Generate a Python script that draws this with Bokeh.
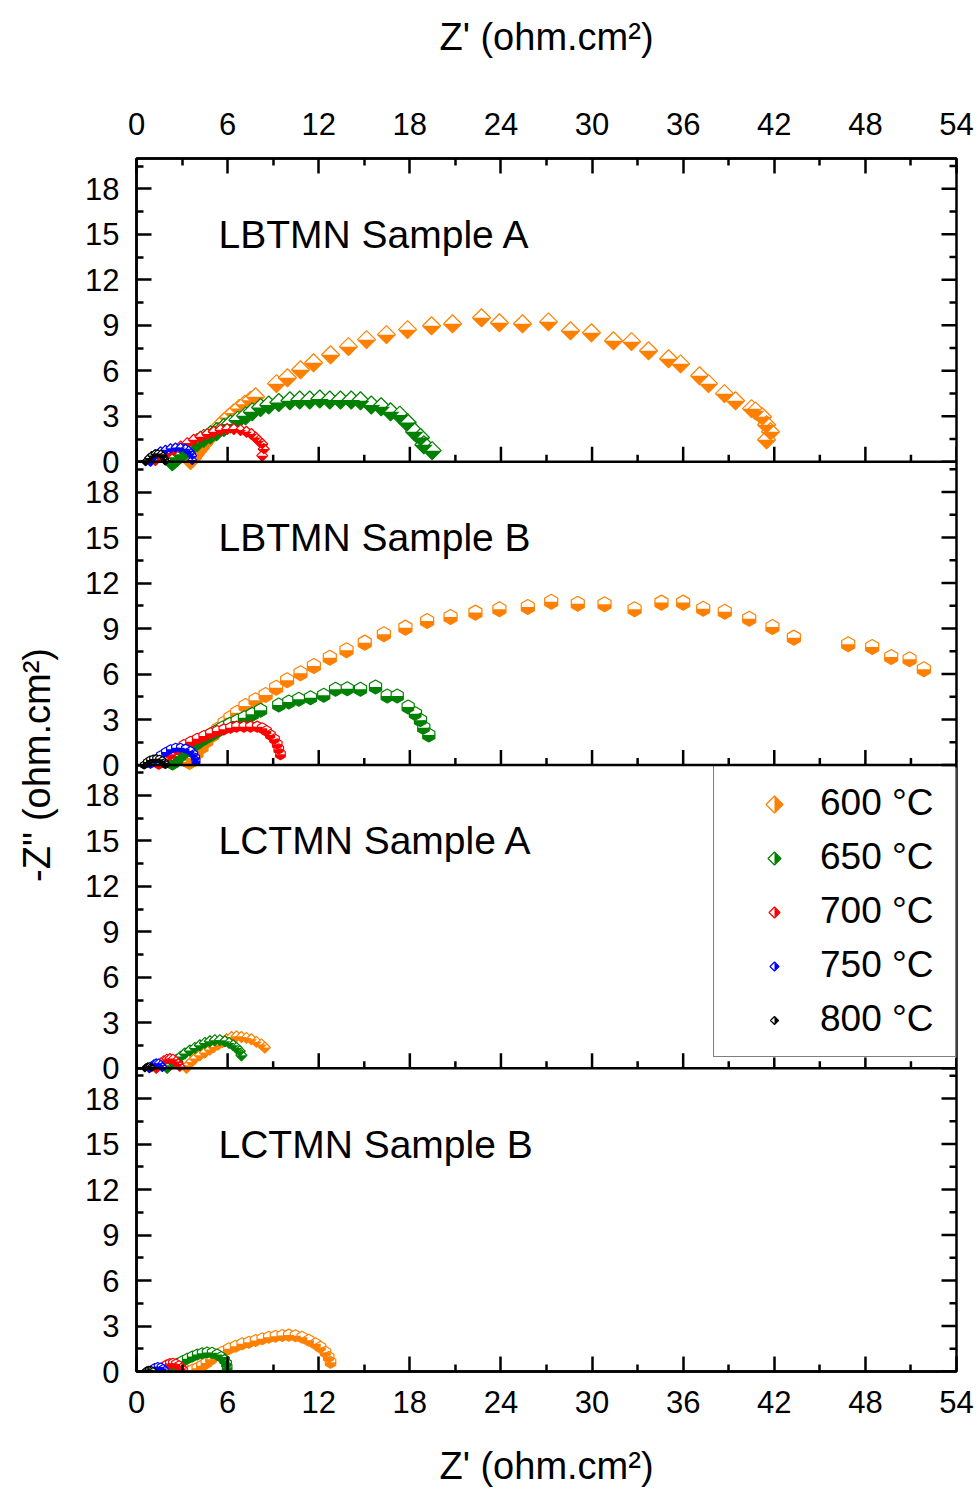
import numpy as np
from bokeh.plotting import figure
from bokeh.models import Range1d, LinearAxis, FixedTicker, Label, Legend, LegendItem, Span
from bokeh.embed import file_html
from bokeh.resources import INLINE

FONT = "Liberation Sans"

# ---------------- axis ticks / labels ----------------
x_ticks = [0, 6, 12, 18, 24, 30, 36, 42, 48, 54]
x_minor = [3, 9, 15, 21, 27, 33, 39, 45, 51]
y_ticks = [0, 3, 6, 9, 12, 15, 18]
y_minor = [1.5, 4.5, 7.5, 10.5, 13.5, 16.5, 19.5]
panel_names = ["LBTMN Sample A", "LBTMN Sample B", "LCTMN Sample A", "LCTMN Sample B"]
temps = ["600 °C", "650 °C", "700 °C", "750 °C", "800 °C"]
colors = ["#FF8000", "#008000", "#FF0000", "#0000FF", "#000000"]
x_title = "Z' (ohm.cm²)"
y_title = "-Z'' (ohm.cm²)"

# ---------------- data: LBTMN Sample A ----------------
lbtmn_a_600_re = [3.56, 3.70, 3.85, 4.02, 4.21, 4.42, 4.65, 4.90, 5.17, 5.45, 5.75, 6.06, 6.40, 6.76, 7.14, 7.52, 7.84,
                  9.22, 9.94, 10.80, 11.66, 12.78, 13.96, 15.15, 16.46, 17.85, 19.43, 20.81, 22.72, 23.90, 25.42, 27.13,
                  28.58, 29.96, 31.41, 32.60, 33.72, 35.04, 35.83, 37.08, 37.67, 38.72, 39.45, 40.50, 40.76, 41.22,
                  41.49, 41.75, 41.49]
lbtmn_a_600_im = [0.07, 0.25, 0.45, 0.67, 0.91, 1.17, 1.44, 1.72, 2.02, 2.32, 2.62, 2.92, 3.22, 3.52, 3.80, 4.06, 4.29,
                  5.15, 5.54, 6.07, 6.53, 7.06, 7.59, 8.05, 8.38, 8.71, 8.97, 9.10, 9.50, 9.17, 9.10, 9.23,
                  8.64, 8.51, 7.98, 7.92, 7.32, 6.79, 6.46, 5.67, 5.15, 4.49, 4.02, 3.50, 3.36, 2.97,
                  2.44, 1.98, 1.45]
lbtmn_a_650_re = [2.35, 2.50, 2.70, 2.95, 3.25, 3.60, 4.00, 4.43, 4.87, 5.27, 5.75, 6.19, 6.67, 7.18, 7.62, 8.17, 8.71,
                  9.37, 10.10, 10.75, 11.41, 12.07, 12.73, 13.43, 14.14, 14.75, 15.46, 16.11, 16.73, 17.34, 17.83,
                  18.31, 18.70, 18.92, 19.47]
lbtmn_a_650_im = [0.00, 0.12, 0.30, 0.50, 0.75, 1.00, 1.27, 1.54, 1.78, 1.98, 2.26, 2.49, 2.75, 3.03, 3.30, 3.58, 3.74,
                  3.91, 4.02, 4.07, 4.07, 4.14, 4.07, 4.07, 4.07, 4.02, 3.74, 3.63, 3.30, 3.08, 2.59,
                  1.98, 1.60, 1.12, 0.73]
lbtmn_a_700_re = [1.25, 1.58, 2.02, 2.46, 2.90, 3.34, 3.77, 4.21, 4.66, 5.09, 5.53, 5.97, 6.41, 6.85, 7.24, 7.57, 7.84,
                  8.05, 8.28, 8.38, 8.28]
lbtmn_a_700_im = [0.11, 0.33, 0.57, 0.79, 1.01, 1.23, 1.45, 1.65, 1.83, 1.98, 2.11, 2.16, 2.16, 2.09, 1.98, 1.83, 1.60,
                  1.39, 1.17, 0.84, 0.40]
lbtmn_a_750_re = [0.92, 1.10, 1.25, 1.58, 1.91, 2.24, 2.57, 2.90, 3.23, 3.44, 3.59, 3.67, 3.67]
lbtmn_a_750_im = [0.00, 0.30, 0.51, 0.69, 0.79, 0.89, 0.94, 0.94, 0.86, 0.73, 0.56, 0.40, 0.11]
lbtmn_a_800_re = [0.60, 0.80, 1.00, 1.20, 1.40, 1.60, 1.75, 1.85, 1.90]
lbtmn_a_800_im = [0.00, 0.25, 0.42, 0.52, 0.55, 0.50, 0.38, 0.20, 0.05]

# ---------------- data: LBTMN Sample B ----------------
lbtmn_b_600_re = [3.49, 3.69, 3.95, 4.28, 4.60, 5.00, 5.40, 5.80, 6.19, 6.63, 7.18, 7.84, 8.50, 9.20, 9.92, 10.80, 11.68,
                  12.73, 13.83, 15.03, 16.29, 17.71, 19.14, 20.68, 22.32, 23.90, 25.77, 27.31, 29.06, 30.82, 32.80,
                  34.57, 36.00, 37.32, 38.74, 40.35, 41.88, 43.29, 46.87, 48.45, 49.70, 50.91, 51.85]
lbtmn_b_600_im = [0.20, 0.46, 0.79, 1.19, 1.58, 1.98, 2.37, 2.77, 3.12, 3.45, 3.89, 4.27, 4.62, 5.10, 5.59, 6.05, 6.53,
                  7.08, 7.57, 8.07, 8.62, 9.06, 9.50, 9.76, 10.05, 10.27, 10.42, 10.77, 10.64, 10.60, 10.27,
                  10.71, 10.71, 10.31, 10.11, 9.65, 9.10, 8.40, 7.96, 7.78, 7.12, 6.97, 6.31]
lbtmn_b_650_re = [2.37, 2.57, 2.83, 3.16, 3.49, 3.89, 4.28, 4.74, 5.20, 5.66, 6.14, 6.63, 7.11, 7.62, 8.17, 9.37, 10.03,
                  10.69, 11.46, 12.33, 13.11, 13.88, 14.75, 15.74, 16.51, 17.17, 17.89, 18.37, 18.70, 18.92, 19.25]
lbtmn_b_650_im = [0.13, 0.33, 0.59, 0.86, 1.12, 1.39, 1.65, 1.91, 2.18, 2.44, 2.68, 2.90, 3.12, 3.34, 3.61, 3.96, 4.16,
                  4.33, 4.44, 4.60, 4.99, 5.03, 4.99, 5.15, 4.55, 4.55, 3.83, 3.38, 2.95, 2.46, 1.98]
lbtmn_b_700_re = [1.47, 1.80, 2.24, 2.68, 3.12, 3.56, 4.00, 4.43, 4.87, 5.31, 5.75, 6.19, 6.59, 7.07, 7.51, 7.95, 8.28,
                  8.56, 8.82, 9.09, 9.27, 9.37, 9.48]
lbtmn_b_700_im = [0.09, 0.38, 0.71, 1.04, 1.32, 1.54, 1.73, 1.91, 2.09, 2.24, 2.35, 2.46, 2.53, 2.53, 2.53, 2.53, 2.42,
                  2.24, 1.98, 1.70, 1.37, 1.04, 0.71]
lbtmn_b_750_re = [0.92, 1.25, 1.58, 1.91, 2.24, 2.57, 2.90, 3.23, 3.56, 3.77, 3.89, 3.92]
lbtmn_b_750_im = [0.09, 0.38, 0.64, 0.86, 1.04, 1.14, 1.14, 1.08, 0.92, 0.71, 0.48, 0.26]
lbtmn_b_800_re = [0.50, 0.70, 0.90, 1.10, 1.30, 1.50, 1.70, 1.85, 1.90]
lbtmn_b_800_im = [0.00, 0.20, 0.33, 0.40, 0.42, 0.38, 0.28, 0.15, 0.03]

# ---------------- data: LCTMN Sample A ----------------
lctmn_a_600_re = [3.29, 3.40, 3.62, 3.84, 4.17, 4.50, 4.83, 5.09, 5.38, 5.66, 5.93, 6.26, 6.59, 6.91, 7.24, 7.57, 7.90,
                  8.23, 8.45]
lctmn_a_600_im = [0.02, 0.20, 0.42, 0.64, 0.86, 1.04, 1.23, 1.40, 1.56, 1.73, 1.91, 2.06, 2.11, 2.06, 2.00, 1.91, 1.74,
                  1.57, 1.37]
lctmn_a_650_re = [2.02, 2.19, 2.42, 2.63, 2.90, 3.18, 3.51, 3.84, 4.17, 4.50, 4.83, 5.16, 5.49, 5.82, 6.10, 6.37, 6.59,
                  6.80, 6.91]
lctmn_a_650_im = [0.02, 0.20, 0.35, 0.57, 0.77, 0.97, 1.17, 1.34, 1.52, 1.67, 1.78, 1.85, 1.85, 1.78, 1.67, 1.52, 1.34,
                  1.12, 0.86]
lctmn_a_700_re = [1.30, 1.45, 1.60, 1.80, 2.00, 2.20, 2.40, 2.60, 2.75, 2.85]
lctmn_a_700_im = [0.00, 0.20, 0.35, 0.50, 0.60, 0.64, 0.60, 0.45, 0.30, 0.12]
lctmn_a_750_re = [0.85, 1.00, 1.15, 1.30, 1.45, 1.60, 1.70]
lctmn_a_750_im = [0.00, 0.15, 0.27, 0.33, 0.32, 0.22, 0.08]
lctmn_a_800_re = [0.55, 0.65, 0.75, 0.85, 0.95, 1.02]
lctmn_a_800_im = [0.00, 0.08, 0.13, 0.14, 0.10, 0.03]

# ---------------- data: LCTMN Sample B ----------------
lctmn_b_600_re = [3.40, 3.70, 4.00, 4.30, 4.60, 4.90, 5.20, 5.64, 6.08, 6.52, 6.96, 7.40, 7.84, 8.28, 8.71, 9.15, 9.60,
                  10.03, 10.47, 10.91, 11.35, 11.79, 12.12, 12.45, 12.66, 12.78]
lctmn_b_600_im = [0.00, 0.10, 0.22, 0.38, 0.56, 0.80, 1.06, 1.27, 1.50, 1.67, 1.83, 1.93, 2.04, 2.16, 2.26, 2.33, 2.37,
                  2.40, 2.36, 2.26, 2.06, 1.83, 1.60, 1.27, 0.94, 0.61]
lctmn_b_650_re = [2.02, 2.19, 2.42, 2.68, 3.01, 3.34, 3.67, 4.00, 4.32, 4.65, 4.98, 5.31, 5.58, 5.80, 5.93, 5.97]
lctmn_b_650_im = [0.02, 0.15, 0.33, 0.51, 0.68, 0.84, 0.99, 1.12, 1.21, 1.25, 1.23, 1.12, 0.96, 0.75, 0.52, 0.28]
lctmn_b_700_re = [1.55, 1.70, 1.85, 2.00, 2.20, 2.40, 2.60, 2.80, 2.95, 3.05]
lctmn_b_700_im = [0.00, 0.20, 0.35, 0.45, 0.53, 0.55, 0.50, 0.38, 0.22, 0.07]
lctmn_b_750_re = [0.90, 1.05, 1.20, 1.40, 1.60, 1.75, 1.85]
lctmn_b_750_im = [0.00, 0.15, 0.26, 0.33, 0.30, 0.20, 0.07]
lctmn_b_800_re = [0.60, 0.70, 0.80, 0.90, 1.00, 1.08]
lctmn_b_800_im = [0.00, 0.08, 0.12, 0.12, 0.08, 0.02]

panels = [
    [(lbtmn_a_600_re, lbtmn_a_600_im), (lbtmn_a_650_re, lbtmn_a_650_im), (lbtmn_a_700_re, lbtmn_a_700_im),
     (lbtmn_a_750_re, lbtmn_a_750_im), (lbtmn_a_800_re, lbtmn_a_800_im)],
    [(lbtmn_b_600_re, lbtmn_b_600_im), (lbtmn_b_650_re, lbtmn_b_650_im), (lbtmn_b_700_re, lbtmn_b_700_im),
     (lbtmn_b_750_re, lbtmn_b_750_im), (lbtmn_b_800_re, lbtmn_b_800_im)],
    [(lctmn_a_600_re, lctmn_a_600_im), (lctmn_a_650_re, lctmn_a_650_im), (lctmn_a_700_re, lctmn_a_700_im),
     (lctmn_a_750_re, lctmn_a_750_im), (lctmn_a_800_re, lctmn_a_800_im)],
    [(lctmn_b_600_re, lctmn_b_600_im), (lctmn_b_650_re, lctmn_b_650_im), (lctmn_b_700_re, lctmn_b_700_im),
     (lctmn_b_750_re, lctmn_b_750_im), (lctmn_b_800_re, lctmn_b_800_im)],
]
panel_shape = ["diamond", "hex", "diamond", "hex"]
panel_sizes = [[18, 18, 11, 9, 8], [15, 14, 11, 9, 8], [11, 11, 10, 9, 7], [12, 11, 10, 8, 7]]
legend_sizes = [17, 13, 11, 9, 8]

# ---------------- figure ----------------
W, H = 979, 1490
ML, MR, MT, MB = 136, 23, 158, 119
FW, FH = W - ML - MR, H - MT - MB
PANEL_H = 20
NP = 4
X_MAX = x_ticks[-1]
p = figure(width=W, height=H, output_backend="svg", toolbar_location=None,
           x_range=Range1d(0, X_MAX), y_range=Range1d(0, PANEL_H * NP),
           x_axis_location=None, y_axis_location=None,
           min_border_left=ML, min_border_right=MR, min_border_top=MT, min_border_bottom=MB)
p.grid.visible = False
p.outline_line_color = "black"
p.outline_line_width = 2.5
p.background_fill_color = "white"
p.border_fill_color = "white"

SX = FW / float(X_MAX)
SY = FH / float(PANEL_H * NP)
LW = 2.5
MAJ, MIN = 15, 7

for k in range(NP):
    off = (NP - 1 - k) * PANEL_H
    p.extra_y_ranges[f"p{k}"] = Range1d(-off, PANEL_H * NP - off)

AX = dict(axis_line_width=LW, major_tick_line_width=LW, minor_tick_line_width=LW,
          major_tick_in=MAJ, major_tick_out=0, minor_tick_in=MIN, minor_tick_out=0,
          major_label_text_font=FONT, major_label_text_font_size="31px", major_label_text_color="black",
          axis_label_text_font=FONT, axis_label_text_font_size="38px", axis_label_text_color="black",
          axis_label_text_font_style="normal")

xt = FixedTicker(ticks=x_ticks, minor_ticks=x_minor)
top = LinearAxis(ticker=xt, axis_label=x_title, major_label_standoff=24, axis_label_standoff=52, **AX)
p.add_layout(top, "above")
bottom = LinearAxis(ticker=xt, axis_label=x_title, major_label_standoff=19, axis_label_standoff=29, **AX)
p.add_layout(bottom, "below")

all_yt, all_ym, overrides = [], [], {}
for k in range(NP):
    off = k * PANEL_H
    for v in y_ticks:
        all_yt.append(off + v)
        overrides[off + v] = str(v)
    for v in y_minor:
        all_ym.append(off + v)
yt = FixedTicker(ticks=all_yt, minor_ticks=all_ym)
left = LinearAxis(ticker=yt, axis_label=y_title, major_label_overrides=overrides,
                  major_label_standoff=17, axis_label_standoff=24, **AX)
p.add_layout(left, "left")

# panel separators with inward (upward) x ticks, and right-side inward y ticks
for k in range(1, NP):
    b = k * PANEL_H
    p.add_layout(Span(location=b, dimension="width", line_color="black", line_width=LW))
    p.ray(x=x_ticks, y=[b] * len(x_ticks), length=MAJ, length_units="screen", angle=np.pi / 2,
          line_color="black", line_width=LW)
    p.ray(x=x_minor, y=[b] * len(x_minor), length=MIN, length_units="screen", angle=np.pi / 2,
          line_color="black", line_width=LW)
p.ray(x=[X_MAX] * len(all_yt), y=all_yt, length=MAJ, length_units="screen", angle=np.pi,
      line_color="black", line_width=LW)
p.ray(x=[X_MAX] * len(all_ym), y=all_ym, length=MIN, length_units="screen", angle=np.pi,
      line_color="black", line_width=LW)


def half_diamond(xs, ys, s, side):
    hx, hy = s / 2 / SX, s / 2 / SY
    if side == "bottom":
        return [[x - hx, x + hx, x] for x in xs], [[y, y, y - hy] for y in ys]
    return [[x, x + hx, x] for x in xs], [[y + hy, y, y - hy] for y in ys]


# ---------------- series ----------------
for k in range(NP):
    rn = f"p{k}"
    for i in range(5):
        xs = np.asarray(panels[k][i][0], dtype=float)
        ys = np.asarray(panels[k][i][1], dtype=float)
        c = colors[i]
        s = panel_sizes[k][i]
        if panel_shape[k] == "diamond":
            p.scatter(xs, ys, marker="square", angle=np.pi / 4, size=s / np.sqrt(2),
                      fill_color="white", line_color=c, line_width=1.2, y_range_name=rn)
            pxs, pys = half_diamond(xs, ys, s, "bottom")
        else:
            r = s / 2.0
            wx = r * np.sqrt(3) / 2 / SX
            pxs = [[x - wx, x + wx, x + wx, x, x - wx] for x in xs]
            pys = [[y, y, y - r / 2 / SY, y - r / SY, y - r / 2 / SY] for y in ys]
            p.scatter(xs, ys, marker="hex", angle=np.pi / 2, size=s,
                      fill_color="white", line_color=c, line_width=1.2, y_range_name=rn)
        p.patches(pxs, pys, fill_color=c, line_color=None, y_range_name=rn)

    p.add_layout(Label(x=5.4, y=15, y_range_name=rn, text=panel_names[k], text_font=FONT,
                       text_font_size="39px", text_color="black", text_baseline="middle", text_align="left"))

# ---------------- legend ----------------
LEG_X, LEG_Y = 577, 314          # lower-left corner of the legend box, px from the frame's lower-left
LEG_PAD, LEG_GW, LEG_ROW, LEG_SP = 16, 90, 42, 12
n_items = len(temps)
box_h = 2 * LEG_PAD + n_items * LEG_ROW + (n_items - 1) * LEG_SP

# white backing of the legend box (covers the right-hand ticks, sits under the legend symbols)
p.quad(left=[LEG_X / SX], right=[X_MAX], bottom=[LEG_Y / SY], top=[(LEG_Y + box_h) / SY],
       fill_color="white", line_color=None)

items = []
for i in range(n_items):
    ghost = p.scatter([np.nan], [np.nan], marker="square", size=1, fill_alpha=0, line_alpha=0)
    items.append(LegendItem(label=temps[i], renderers=[ghost], index=0))
legend = Legend(items=items, location=(LEG_X, LEG_Y), label_text_font=FONT, label_text_font_size="37px",
                label_text_color="black",
                glyph_width=LEG_GW, glyph_height=LEG_ROW, label_height=LEG_ROW, label_width=119, label_standoff=0,
                spacing=LEG_SP, padding=LEG_PAD, margin=0, border_line_color="black", border_line_width=1.5,
                background_fill_alpha=0.0)
p.add_layout(legend)

# legend symbols (half-filled diamonds) placed in the legend's glyph slots
icon_x = (LEG_X + LEG_PAD + LEG_GW / 2.0) / SX
for i in range(n_items):
    sy = LEG_Y + box_h - LEG_PAD - LEG_ROW / 2.0 - i * (LEG_ROW + LEG_SP)
    ix, iy = [icon_x], [sy / SY]
    s = legend_sizes[i]
    p.scatter(ix, iy, marker="square", angle=np.pi / 4, size=s / np.sqrt(2), fill_color="white",
              line_color=colors[i], line_width=1.2)
    lx, ly = half_diamond(ix, iy, s, "right")
    p.patches(lx, ly, fill_color=colors[i], line_color=None)

open("out.html", "w").write(file_html(p, INLINE))
